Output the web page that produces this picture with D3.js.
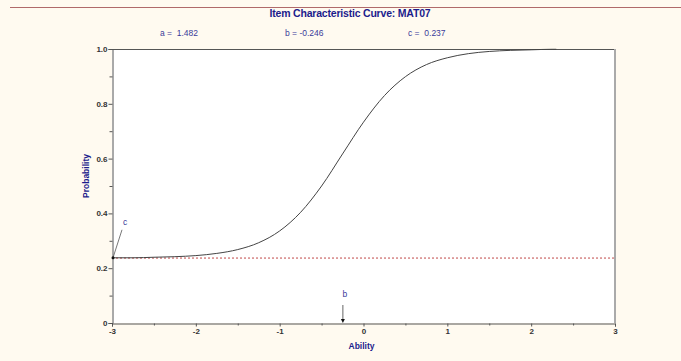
<!DOCTYPE html>
<html>
<head>
<meta charset="utf-8">
<script src="https://cdn.jsdelivr.net/npm/d3@7"></script>
<style>
  html, body { margin: 0; padding: 0; background: #fffaf0; }
  svg { display: block; }
  text { font-family: Arial, "Liberation Sans", sans-serif; }
</style>
</head>
<body>
<script>
// Item parameters (3PL model)
const itemName = "MAT07";
const paramA = 1.482;
const paramB = -0.246;
const paramC = 0.237;

// Ability values and the probability of a correct response at each
const abilities = [-3.0, -2.75, -2.5, -2.25, -2.0, -1.75, -1.5, -1.25, -1.0, -0.75, -0.5, -0.25,
                   0.0, 0.25, 0.5, 0.75, 1.0, 1.25, 1.5, 1.75, 2.0, 2.25, 2.3];
const probabilities = [0.238, 0.238, 0.240, 0.242, 0.246, 0.254, 0.268, 0.293, 0.336, 0.404, 0.500, 0.617,
                       0.733, 0.830, 0.899, 0.943, 0.968, 0.983, 0.991, 0.995, 0.997, 0.999, 0.999];

const xTicks = [-3, -2, -1, 0, 1, 2, 3];
const yTicks = [0, 0.2, 0.4, 0.6, 0.8, 1.0];

const W = 681, H = 361;
const svg = d3.select("body").append("svg").attr("width", W).attr("height", H);

const plot = { left: 112, right: 615, top: 49, bottom: 323 };
const x = d3.scaleLinear().domain([-3, 3]).range([plot.left, plot.right]);
const y = d3.scaleLinear().domain([0, 1]).range([plot.bottom, plot.top]);

const navy = "#1c1c8c";
const labelBlue = "#3a3a9a";

// plain hyphen-minus for negative numbers
const hy = f => v => f(v).replace("\u2212", "-");

// top rule
svg.append("line").attr("x1", 10).attr("x2", W).attr("y1", 7.5).attr("y2", 7.5)
  .attr("stroke", "#b06a6a").attr("stroke-width", 1);

// title and parameter read-outs
svg.append("text").attr("x", 350).attr("y", 17).attr("text-anchor", "middle")
  .attr("font-size", 10.5).attr("font-weight", "bold").attr("fill", navy)
  .attr("letter-spacing", -0.2)
  .text("Item Characteristic Curve: " + itemName);

const fmt = hy(d3.format(".3f"));
const params = [
  { x: 160, t: "a =  " + fmt(paramA) },
  { x: 285, t: "b = " + fmt(paramB) },
  { x: 408, t: "c =  " + fmt(paramC) }
];
svg.selectAll("text.param").data(params).join("text").attr("class", "param")
  .attr("x", d => d.x).attr("y", 36).attr("font-size", 8.5).attr("fill", labelBlue)
  .attr("xml:space", "preserve").style("white-space", "pre")
  .text(d => d.t);

// plotting area
svg.append("rect").attr("x", plot.left).attr("y", plot.top)
  .attr("width", plot.right - plot.left).attr("height", plot.bottom - plot.top)
  .attr("fill", "#ffffff");
svg.append("line").attr("x1", plot.left).attr("x2", plot.right).attr("y1", plot.top + 0.5).attr("y2", plot.top + 0.5)
  .attr("stroke", "#555");
svg.append("line").attr("x1", plot.right).attr("x2", plot.right).attr("y1", plot.top).attr("y2", plot.bottom)
  .attr("stroke", "#aaaaaa").attr("stroke-width", 2);

// axes
const yAxis = d3.axisLeft(y).tickValues(yTicks).tickFormat(d => d === 0 ? "0" : d3.format(".1f")(d))
  .tickSize(4).tickPadding(1);
svg.append("g").attr("transform", `translate(${plot.left + 0.5},0)`).call(yAxis);
const yMinor = d3.axisLeft(y).tickValues(d3.range(0.1, 1, 0.2)).tickFormat("").tickSize(3);
svg.append("g").attr("transform", `translate(${plot.left + 0.5},0)`).call(yMinor).select(".domain").remove();

const xAxis = d3.axisBottom(x).tickValues(xTicks).tickFormat(hy(d3.format("d"))).tickSize(3).tickPadding(1.5);
svg.append("g").attr("transform", `translate(0,${plot.bottom + 0.5})`).call(xAxis);
const xMinor = d3.axisBottom(x).tickValues([-2.5, -1.5, -0.5, 0.5, 1.5, 2.5]).tickFormat("").tickSize(2);
svg.append("g").attr("transform", `translate(0,${plot.bottom + 0.5})`).call(xMinor).select(".domain").remove();

svg.selectAll(".domain").attr("stroke", "#555");
svg.selectAll(".tick line").attr("stroke", "#555");
svg.selectAll(".tick text").attr("font-size", 8).attr("font-weight", "bold").attr("fill", "#333")
  .attr("font-family", "Arial, 'Liberation Sans', sans-serif");

// axis titles
svg.append("text").attr("x", plot.left + (plot.right - plot.left) / 2 - 2).attr("y", 349)
  .attr("text-anchor", "middle").attr("font-size", 8.5).attr("font-weight", "bold").attr("fill", navy)
  .text("Ability");
svg.append("text").attr("transform", "translate(89,176) rotate(-90)")
  .attr("text-anchor", "middle").attr("font-size", 8.5).attr("font-weight", "bold").attr("fill", navy)
  .text("Probability");

// lower asymptote
svg.append("line").attr("x1", x(-3)).attr("x2", x(3)).attr("y1", y(paramC)).attr("y2", y(paramC))
  .attr("stroke", "#c04848").attr("stroke-width", 1).attr("stroke-dasharray", "2,2");

// item characteristic curve
const pts = abilities.map((t, i) => [t, probabilities[i]]);
svg.append("path").datum(pts)
  .attr("d", d3.line().x(d => x(d[0])).y(d => y(d[1])).curve(d3.curveMonotoneX))
  .attr("fill", "none").attr("stroke", "#444").attr("stroke-width", 1);

// "c" marker at the left end of the curve
const cx0 = x(-3), cy0 = y(probabilities[0]);
svg.append("line").attr("x1", cx0 + 10).attr("y1", cy0 - 28).attr("x2", cx0 + 1).attr("y2", cy0)
  .attr("stroke", "#555").attr("stroke-width", 0.8);
svg.append("circle").attr("cx", cx0 + 1).attr("cy", cy0).attr("r", 1.5).attr("fill", "#111");
svg.append("text").attr("x", cx0 + 11).attr("y", cy0 - 33).attr("font-size", 8.5).attr("fill", labelBlue).text("c");

// "b" marker pointing at the difficulty on the ability axis
const bx = x(paramB);
svg.append("line").attr("x1", bx).attr("x2", bx).attr("y1", plot.bottom - 18).attr("y2", plot.bottom - 2)
  .attr("stroke", "#666").attr("stroke-width", 1);
svg.append("path")
  .attr("d", `M${bx - 2},${plot.bottom - 4} L${bx + 2},${plot.bottom - 4} L${bx},${plot.bottom} Z`)
  .attr("fill", "#111");
svg.append("text").attr("x", bx + 2).attr("y", plot.bottom - 26).attr("text-anchor", "middle")
  .attr("font-size", 8.5).attr("fill", labelBlue).text("b");
</script>
</body>
</html>
